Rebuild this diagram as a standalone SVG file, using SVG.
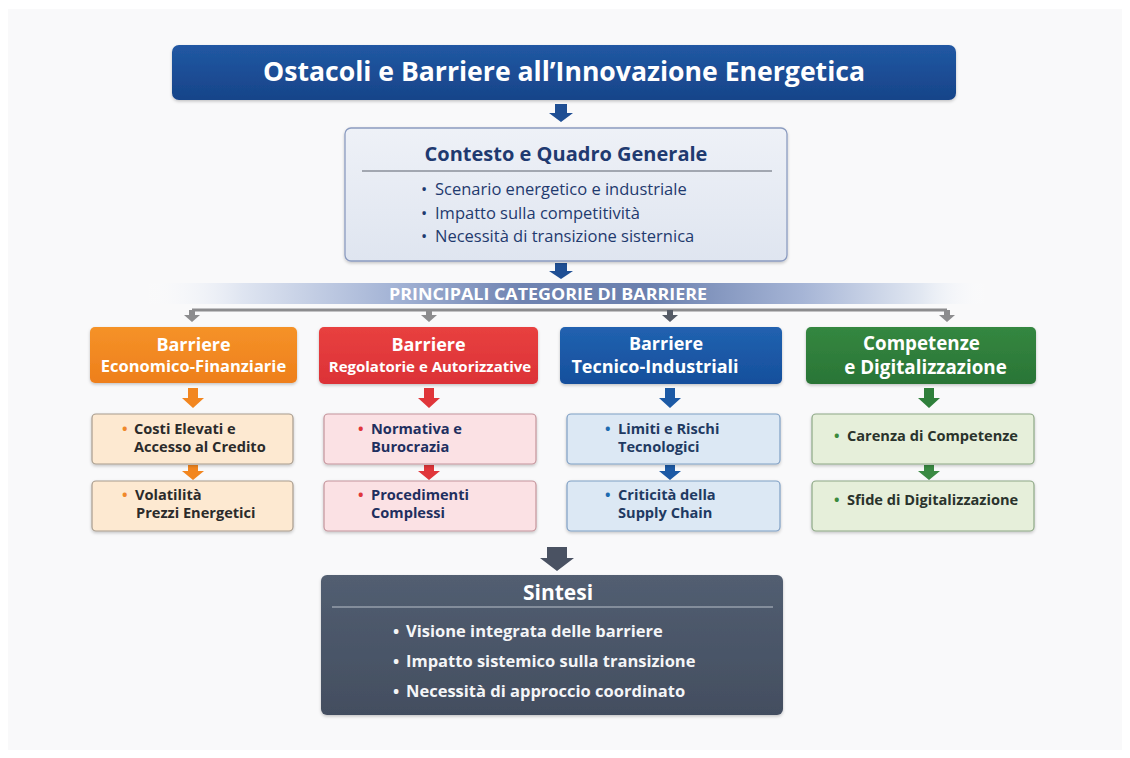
<svg xmlns="http://www.w3.org/2000/svg" width="1130" height="758" viewBox="0 0 1130 758">
  <defs>
    <style>
      text { font-family: "Open Sans", "Noto Sans", "DejaVu Sans", sans-serif; }
      .b { font-weight: 700; }
      .c { text-anchor: middle; }
      .w { fill: #ffffff; }
      .hd { font-weight: 700; fill: #ffffff; text-anchor: middle; }
      .sub { font-size: 14.6px; font-weight: 700; }
      .ctx { font-size: 16.5px; fill: #1f3a6e; }
      .syn { font-size: 16.5px; font-weight: 700; fill: #f4f5f7; }
    </style>
    <linearGradient id="gTitle" x1="0" y1="0" x2="0" y2="1">
      <stop offset="0" stop-color="#2158a3"/>
      <stop offset="1" stop-color="#174489"/>
    </linearGradient>
    <linearGradient id="gCtx" x1="0" y1="0" x2="0" y2="1">
      <stop offset="0" stop-color="#eef1f7"/>
      <stop offset="1" stop-color="#dfe5f0"/>
    </linearGradient>
    <linearGradient id="gBanner" x1="0" y1="0" x2="1" y2="0">
      <stop offset="0" stop-color="#ffffff" stop-opacity="0"/>
      <stop offset="0.12" stop-color="#dfe5f1"/>
      <stop offset="0.3" stop-color="#a3b3d5"/>
      <stop offset="0.45" stop-color="#6f83b1"/>
      <stop offset="0.6" stop-color="#6b80ae"/>
      <stop offset="0.78" stop-color="#a6b5d6"/>
      <stop offset="0.92" stop-color="#e2e8f2"/>
      <stop offset="1" stop-color="#ffffff" stop-opacity="0"/>
    </linearGradient>
    <linearGradient id="gOr" x1="0" y1="0" x2="0" y2="1">
      <stop offset="0" stop-color="#f59228"/>
      <stop offset="1" stop-color="#ee7f1b"/>
    </linearGradient>
    <linearGradient id="gRe" x1="0" y1="0" x2="0" y2="1">
      <stop offset="0" stop-color="#e8403f"/>
      <stop offset="1" stop-color="#dc3237"/>
    </linearGradient>
    <linearGradient id="gBl" x1="0" y1="0" x2="0" y2="1">
      <stop offset="0" stop-color="#2162b0"/>
      <stop offset="1" stop-color="#164f9c"/>
    </linearGradient>
    <linearGradient id="gGr" x1="0" y1="0" x2="0" y2="1">
      <stop offset="0" stop-color="#348740"/>
      <stop offset="1" stop-color="#2a7536"/>
    </linearGradient>
    <linearGradient id="gSyn" x1="0" y1="0" x2="0" y2="1">
      <stop offset="0" stop-color="#525e71"/>
      <stop offset="1" stop-color="#434e60"/>
    </linearGradient>
    <filter id="sh" x="-5%" y="-10%" width="110%" height="125%">
      <feDropShadow dx="0" dy="1.5" stdDeviation="1.5" flood-color="#000" flood-opacity="0.22"/>
    </filter>
  </defs>

  <rect x="0" y="0" width="1130" height="758" fill="#ffffff"/>
  <rect x="8" y="9" width="1114" height="741" fill="#f9f9fa"/>

  <!-- connectors -->
  <g id="connectors">
    <polygon points="555,104 567,104 567,113 573,113 561,122 549,113 555,113" fill="#1f4f94"/>
    <polygon points="555,263 567,263 567,271 573,271 561,279 549,271 555,271" fill="#1f4f94"/>
    <line x1="192" y1="310" x2="947" y2="310" stroke="#8c8c8e" stroke-width="3"/>
    <polygon points="189,310 195,310 195,315 200,315 192,322 184,315 189,315" fill="#8c8c8e"/>
    <polygon points="426,310 432,310 432,315 437,315 429,322 421,315 426,315" fill="#8c8c8e"/>
    <polygon points="667,310 673,310 673,315 678,315 670,322 662,315 667,315" fill="#555b66"/>
    <polygon points="944,310 950,310 950,315 955,315 947,322 939,315 944,315" fill="#8c8c8e"/>
    <!-- category arrows -->
    <polygon points="188,388 198,388 198,398 204,398 193,408 182,398 188,398" fill="#f2861f"/>
    <polygon points="188,465 198,465 198,471 204,471 193,480 182,471 188,471" fill="#f2861f"/>
    <polygon points="424,388 434,388 434,398 440,398 429,408 418,398 424,398" fill="#e0363a"/>
    <polygon points="424,465 434,465 434,471 440,471 429,480 418,471 424,471" fill="#e0363a"/>
    <polygon points="665,388 675,388 675,398 681,398 670,408 659,398 665,398" fill="#1d5aa5"/>
    <polygon points="665,465 675,465 675,471 681,471 670,480 659,471 665,471" fill="#1d5aa5"/>
    <polygon points="924,388 934,388 934,398 940,398 929,408 918,398 924,398" fill="#2f7f3b"/>
    <polygon points="924,465 934,465 934,471 940,471 929,480 918,471 924,471" fill="#3a8a43"/>
    <polygon points="547,547 567,547 567,558 574,558 557,571 540,558 547,558" fill="#4a5262"/>
  </g>

  <g id="title">
    <rect x="172" y="45" width="784" height="55" rx="7" fill="url(#gTitle)" filter="url(#sh)"/>
    <text x="564" y="81" class="b c w" font-size="26" textLength="602" lengthAdjust="spacingAndGlyphs">Ostacoli e Barriere all’Innovazione Energetica</text>
  </g>

  <g id="contesto">
    <rect x="345" y="128" width="442" height="133" rx="6" fill="url(#gCtx)" stroke="#8c9cc0" stroke-width="1.3" filter="url(#sh)"/>
    <text x="566" y="161" class="b c" font-size="20" fill="#1f3a70">Contesto e Quadro Generale</text>
    <line x1="362" y1="171" x2="772" y2="171" stroke="#8a8f9a" stroke-width="1.3"/>
    <text x="421" y="195" class="ctx">•<tspan x="435">Scenario energetico e industriale</tspan></text>
    <text x="421" y="219" class="ctx">•<tspan x="435">Impatto sulla competitività</tspan></text>
    <text x="421" y="242" class="ctx">•<tspan x="435">Necessità di transizione sisternica</tspan></text>
  </g>

  <g id="banner">
    <rect x="140" y="283" width="850" height="21" fill="url(#gBanner)"/>
    <text x="548" y="300" class="b c w" font-size="16" textLength="318" lengthAdjust="spacingAndGlyphs">PRINCIPALI CATEGORIE DI BARRIERE</text>
  </g>

  <g id="cat-economico">
    <rect x="90" y="327" width="207" height="56" rx="5" fill="url(#gOr)" filter="url(#sh)"/>
    <text class="hd"><tspan x="193.5" y="351" style="font-size:18px">Barriere</tspan><tspan x="193.5" y="372" style="font-size:16.5px">Economico-Finanziarie</tspan></text>
  </g>
  <g id="cat-regolatorie">
    <rect x="319" y="327" width="219" height="57" rx="5" fill="url(#gRe)" filter="url(#sh)"/>
    <text class="hd"><tspan x="428.5" y="351" style="font-size:18px">Barriere</tspan><tspan x="430" y="372" style="font-size:15px">Regolatorie e Autorizzative</tspan></text>
  </g>
  <g id="cat-tecnico">
    <rect x="560" y="327" width="222" height="57" rx="5" fill="url(#gBl)" filter="url(#sh)"/>
    <text class="hd"><tspan x="666" y="350" style="font-size:18px">Barriere</tspan><tspan x="655" y="373" style="font-size:18px">Tecnico-Industriali</tspan></text>
  </g>
  <g id="cat-competenze">
    <rect x="806" y="327" width="230" height="57" rx="5" fill="url(#gGr)" filter="url(#sh)"/>
    <text class="hd" style="font-size:18.8px"><tspan x="921.5" y="350">Competenze</tspan><tspan x="925.5" y="374">e Digitalizzazione</tspan></text>
  </g>

  <g id="eco-1">
    <rect x="92" y="414" width="201" height="50" rx="4" fill="#fde9d1" stroke="#a89c8e" stroke-width="1.2" filter="url(#sh)"/>
    <text class="sub" fill="#2b2b2b"><tspan x="122" y="434" fill="#f0882a">•</tspan><tspan x="134" y="434">Costi Elevati e</tspan><tspan x="134" y="452">Accesso al Credito</tspan></text>
  </g>
  <g id="eco-2">
    <rect x="92" y="481" width="201" height="50" rx="4" fill="#fde9d1" stroke="#a89c8e" stroke-width="1.2" filter="url(#sh)"/>
    <text class="sub" fill="#2b2b2b"><tspan x="122" y="500" fill="#f0882a">•</tspan><tspan x="135" y="500">Volatilità</tspan><tspan x="136" y="518">Prezzi Energetici</tspan></text>
  </g>

  <g id="reg-1">
    <rect x="324" y="414" width="212" height="50" rx="4" fill="#fbe1e4" stroke="#c4949b" stroke-width="1.2" filter="url(#sh)"/>
    <text class="sub" fill="#1f2f5f"><tspan x="358" y="434" fill="#e0363a">•</tspan><tspan x="371" y="434">Normativa e</tspan><tspan x="371" y="452">Burocrazia</tspan></text>
  </g>
  <g id="reg-2">
    <rect x="324" y="481" width="212" height="50" rx="4" fill="#fbe1e4" stroke="#c4949b" stroke-width="1.2" filter="url(#sh)"/>
    <text class="sub" fill="#1f2f5f"><tspan x="358" y="500" fill="#e0363a">•</tspan><tspan x="371" y="500">Procedimenti</tspan><tspan x="371" y="518">Complessi</tspan></text>
  </g>

  <g id="tec-1">
    <rect x="567" y="414" width="213" height="50" rx="4" fill="#dce8f4" stroke="#7f9fc4" stroke-width="1.2" filter="url(#sh)"/>
    <text class="sub" fill="#1f3a62"><tspan x="605" y="434" fill="#1d6ab0">•</tspan><tspan x="618" y="434">Limiti e Rischi</tspan><tspan x="618" y="452">Tecnologici</tspan></text>
  </g>
  <g id="tec-2">
    <rect x="567" y="481" width="213" height="50" rx="4" fill="#dce8f4" stroke="#7f9fc4" stroke-width="1.2" filter="url(#sh)"/>
    <text class="sub" fill="#1f3a62"><tspan x="605" y="500" fill="#1d6ab0">•</tspan><tspan x="618" y="500">Criticità della</tspan><tspan x="618" y="518">Supply Chain</tspan></text>
  </g>

  <g id="com-1">
    <rect x="812" y="414" width="222" height="50" rx="4" fill="#e6efda" stroke="#8ea886" stroke-width="1.2" filter="url(#sh)"/>
    <text x="834" y="441" class="sub" fill="#2a332c"><tspan fill="#3b8a3b">•</tspan><tspan x="847">Carenza di Competenze</tspan></text>
  </g>
  <g id="com-2">
    <rect x="812" y="481" width="222" height="50" rx="4" fill="#e6efda" stroke="#8ea886" stroke-width="1.2" filter="url(#sh)"/>
    <text x="834" y="505" class="sub" fill="#2a332c"><tspan fill="#3b8a3b">•</tspan><tspan x="847">Sfide di Digitalizzazione</tspan></text>
  </g>

  <g id="sintesi">
    <rect x="321" y="575" width="462" height="140" rx="6" fill="url(#gSyn)" filter="url(#sh)"/>
    <text x="558" y="600" class="b c w" font-size="21">Sintesi</text>
    <line x1="332" y1="607" x2="773" y2="607" stroke="#b9bfc9" stroke-width="1.2"/>
    <text x="393" y="637" class="syn">•<tspan x="406">Visione integrata delle barriere</tspan></text>
    <text x="393" y="667" class="syn">•<tspan x="406">Impatto sistemico sulla transizione</tspan></text>
    <text x="393" y="697" class="syn">•<tspan x="406">Necessità di approccio coordinato</tspan></text>
  </g>
</svg>
